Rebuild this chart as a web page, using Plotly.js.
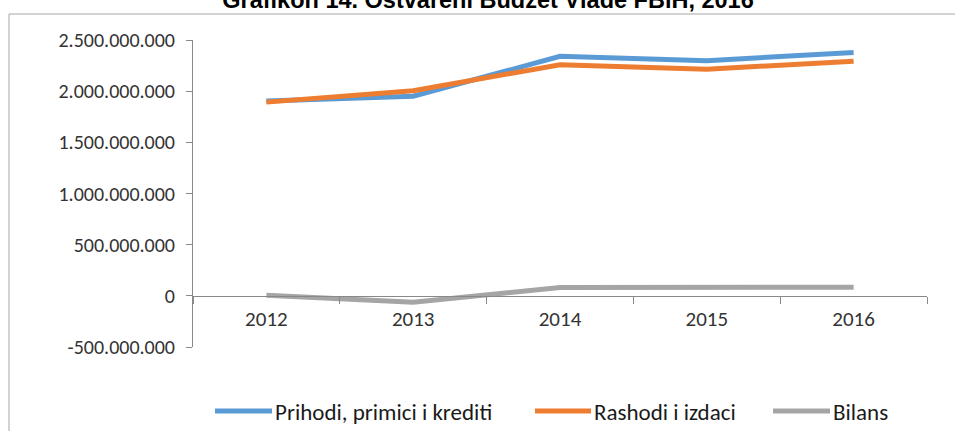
<!DOCTYPE html>
<html>
<head>
<meta charset="utf-8">
<script src="https://cdn.plot.ly/plotly-3.0.1.min.js"></script>
<style>html,body{margin:0;padding:0;background:#fff;}#chart{width:955px;height:431px;}</style>
</head>
<body>
<div id="chart"></div>
<script>
const years = ['2012', '2013', '2014', '2015', '2016'];
const prihodi = [1905000000, 1950000000, 2340000000, 2297000000, 2379000000];
const rashodi = [1893000000, 2005000000, 2258000000, 2214000000, 2293000000];
const bilans = [5000000, -62000000, 82000000, 82000000, 84000000];
const seriesNames = ['Prihodi, primici i krediti', 'Rashodi i izdaci', 'Bilans'];
const yTickVals = [-500000000, 0, 500000000, 1000000000, 1500000000, 2000000000, 2500000000];
const yTickText = ['-500.000.000', '0', '500.000.000', '1.000.000.000', '1.500.000.000', '2.000.000.000', '2.500.000.000'];
const titleText = 'Grafikon 14. Ostvareni Budžet Vlade FBiH, 2016';

const colors = ['#5B9BD5', '#ED7D31', '#A5A5A5'];
const font = 'Carlito, Calibri, "Noto Sans", sans-serif';
const yRange = [yTickVals[0], yTickVals[yTickVals.length - 1]];
const zeroPos = (0 - yRange[0]) / (yRange[1] - yRange[0]);

// plot area geometry (pixels)
const M = {l: 193, r: 28, t: 40, b: 84};
const W = 955, H = 431;
const pw = W - M.l - M.r, ph = H - M.t - M.b;
const fx = px => (px - M.l) / pw;
const fy = py => (H - M.b - py) / ph;

const traces = [prihodi, rashodi, bilans].map((vals, i) => ({
  x: years, y: vals, name: seriesNames[i], type: 'scatter', mode: 'lines',
  line: {color: colors[i], width: 5},
  hoverinfo: 'skip', showlegend: false
}));

// custom legend (long line samples as in the reference)
const legendLines = [[215, 272], [535, 591], [773, 830]];
const legendY = 411;
const shapes = [{type: 'rect', xref: 'paper', yref: 'paper', x0: fx(9), x1: fx(980), y0: fy(460), y1: fy(14),
  line: {color: '#a6a6a6', width: 1}, fillcolor: 'rgba(0,0,0,0)', layer: 'below'}];
const annotations = [];
seriesNames.forEach((n, i) => {
  const [a, b] = legendLines[i];
  shapes.push({type: 'line', xref: 'paper', yref: 'paper', x0: fx(a), x1: fx(b), y0: fy(legendY), y1: fy(legendY),
    line: {color: colors[i], width: 5}});
  annotations.push({text: n, xref: 'paper', yref: 'paper', x: fx(b + 1), y: fy(legendY + 1), xanchor: 'left', yanchor: 'middle',
    showarrow: false, font: {family: font, size: 23, color: '#1a1a1a'}});
});

const layout = {
  width: W, height: H,
  margin: M,
  paper_bgcolor: '#fff', plot_bgcolor: '#fff',
  font: {family: font, size: 16, color: '#404040'},
  title: {text: '<b>' + titleText + '</b>', font: {family: 'Arial, "Liberation Sans", sans-serif', size: 23.5, color: '#000'},
    x: 488 / W, xanchor: 'center', y: 1, yref: 'container', yanchor: 'middle', pad: {t: 0, b: 0}},
  xaxis: {
    type: 'category', range: [-0.5, 4.5], anchor: 'free', position: zeroPos,
    showline: true, linecolor: '#898989', linewidth: 1,
    ticks: 'outside', tickson: 'boundaries', ticklen: 7, tickcolor: '#898989',
    showgrid: false, zeroline: false, ticklabelstandoff: 4,
    tickfont: {family: font, size: 21, color: '#333333'}
  },
  yaxis: {
    range: yRange, tickvals: yTickVals, ticktext: yTickText,
    showline: true, linecolor: '#898989', linewidth: 1,
    ticks: 'outside', ticklen: 6, tickcolor: '#898989',
    showgrid: false, zeroline: false, ticklabelstandoff: 7,
    tickfont: {family: font, size: 20, color: '#333333'}
  },
  showlegend: false,
  shapes: shapes,
  annotations: annotations
};

Plotly.newPlot('chart', traces, layout, {displayModeBar: false, staticPlot: true});
</script>
</body>
</html>
